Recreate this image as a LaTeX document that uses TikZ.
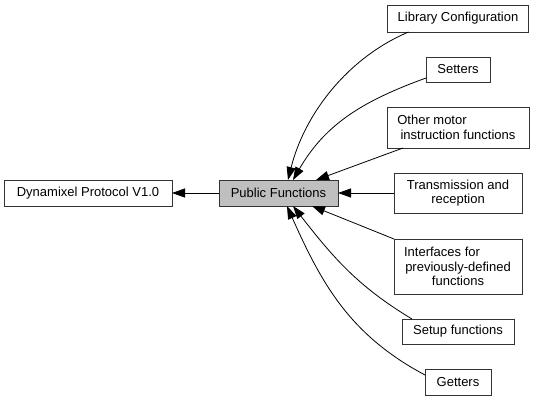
\documentclass[tikz,border=0pt]{standalone}
\usepackage{fontspec}
\setmainfont{Liberation Sans}
\usepackage{tikz}
\usetikzlibrary{arrows.meta,positioning}
\tikzset{
    %Define standard arrow tip
    >={Triangle[length=13pt,width=9pt]},
    %Define style for boxes
    group/.style={
           rectangle,
           draw=black!80, line width=0.9pt,
           fill=white,
           inner sep=2pt, outer sep=0pt,
           font=\fontsize{13}{14.7}\selectfont,
           align=center},
    current/.style={
           group,
           fill=black!25},
    % Define arrow style
    dep/.style={
           <-,
           line width=0.8pt}
}
\begin{document}
\begin{tikzpicture}[x=1pt,y=1pt,node distance=25pt]
\useasboundingbox (0,0) rectangle (535,-401);
 %nodes
\node[current, minimum width=119pt, minimum height=26pt] (pub) at (278.5,-193) {Public Functions};
\node[group, minimum width=168pt, minimum height=26pt, left=47pt of pub] (dyn) {Dynamixel Protocol V1.0};

\node[group, minimum width=128pt, minimum height=40pt, right=56pt of pub] (trans) {Transmission and\\reception};
\node[group, minimum width=142pt, minimum height=41pt, above=of trans] (motor) {Other motor\hspace*{52pt}\\instruction functions};
\node[group, minimum width=64pt, minimum height=25pt, above=of motor] (setters) {Setters};
\node[group, minimum width=141pt, minimum height=27pt, above=of setters] (libcfg) {Library Configuration};
\node[group, minimum width=128pt, minimum height=55pt, below=26pt of trans] (iface) {Interfaces for\hspace*{32pt}\\previously-defined\\functions};
\node[group, minimum width=112pt, minimum height=25pt, below=of iface] (setup) {Setup functions};
\node[group, minimum width=66pt, minimum height=26pt, below=of setup] (getters) {Getters};

 %edges
\draw[dep] (dyn) -- (pub);
\draw[dep] ([xshift=69pt]pub.north west) to[out=76,in=203,looseness=0.9] ([xshift=21pt]libcfg.south west);
\draw[dep] ([xshift=74pt]pub.north west) to[out=60,in=200] ([yshift=4pt]setters.south west);
\draw[dep] ([xshift=97pt]pub.north west) -- ([xshift=16pt]motor.south west);
\draw[dep] (pub) -- (trans);
\draw[dep] ([xshift=93pt]pub.south west) -- (iface.north west);
\draw[dep] ([xshift=74pt]pub.south west) to[out=308,in=149] ([xshift=10pt]setup.north west);
\draw[dep] ([xshift=68pt]pub.south west) to[out=294,in=152] ([yshift=-6pt]getters.north west);
\end{tikzpicture}
\end{document}
